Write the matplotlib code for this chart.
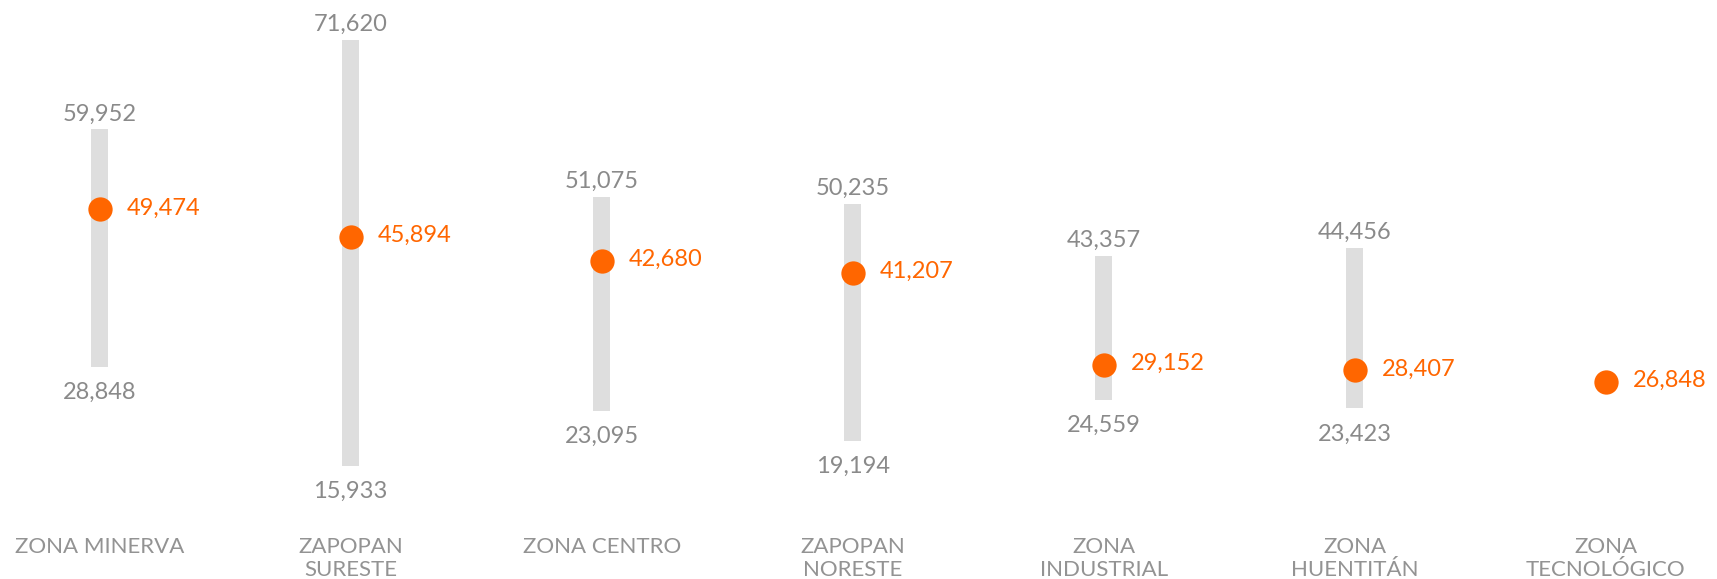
import matplotlib
matplotlib.use('Agg')
import matplotlib.pyplot as plt
import numpy as np

# data
zonas = ['ZONA MINERVA', 'ZAPOPAN\nSURESTE', 'ZONA CENTRO', 'ZAPOPAN\nNORESTE',
         'ZONA\nINDUSTRIAL', 'ZONA\nHUENTITÁN', 'ZONA\nTECNOLÓGICO']
maximos = [59952, 71620, 51075, 50235, 43357, 44456, np.nan]
minimos = [28848, 15933, 23095, 19194, 24559, 23423, np.nan]
valores = [49474, 45894, 42680, 41207, 29152, 28407, 26848]

gris_barra = '#dedede'
gris_texto = '#8a8a8a'
naranja = '#ff6600'

plt.rcParams['font.family'] = ['Lato', 'DejaVu Sans']

fig = plt.figure(figsize=(17.17, 5.79), dpi=100)
ax = fig.add_axes([0, 0, 1, 1])
ax.set_xlim(-0.397, 6.443)
ax.set_ylim(1099, 76885)
ax.axis('off')

x = np.arange(len(zonas))
alto = np.array(maximos) - np.array(minimos)
ax.bar(x, alto, bottom=minimos, width=0.066, color=gris_barra, zorder=1)
ax.plot(x, valores, 'o', color=naranja, markersize=17.5, markeredgewidth=0, zorder=2)

fs = 17
for i in range(len(zonas)):
    if not np.isnan(maximos[i]):
        ax.annotate('{:,}'.format(maximos[i]), (x[i], maximos[i]), xytext=(0, 9),
                    textcoords='offset pixels', ha='center', va='baseline',
                    fontsize=fs, color=gris_texto)
        ax.annotate('{:,}'.format(minimos[i]), (x[i], minimos[i]), xytext=(0, -32),
                    textcoords='offset pixels', ha='center', va='baseline',
                    fontsize=fs, color=gris_texto)
    ax.annotate('{:,}'.format(valores[i]), (x[i], valores[i]), xytext=(27, -5),
                textcoords='offset pixels', ha='left', va='baseline',
                fontsize=fs, color=naranja)
    # category label, one line at a time
    for j, linea in enumerate(zonas[i].split('\n')):
        ax.annotate(linea, (x[i], 1 - 553 / 579), xycoords=('data', 'axes fraction'),
                    xytext=(0, -23 * j), textcoords='offset pixels',
                    ha='center', va='baseline', fontsize=16,
                    color='#939393')

fig.savefig('out.png', dpi=100)
